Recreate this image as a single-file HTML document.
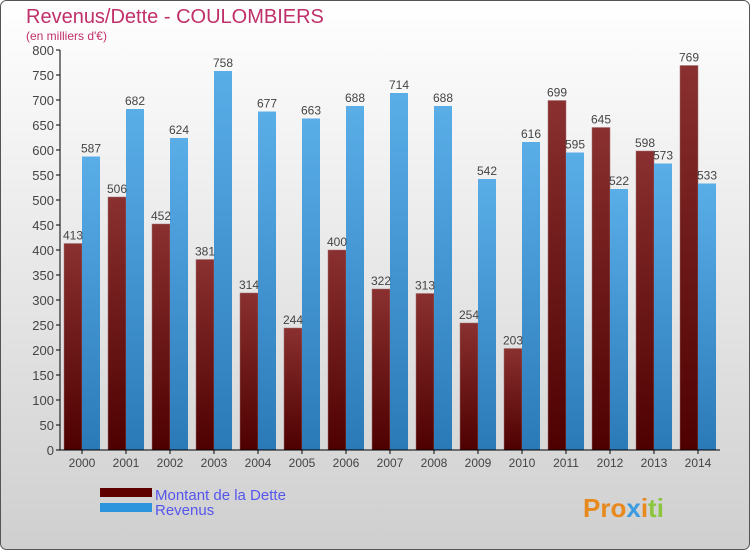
<!DOCTYPE html>
<html><head><meta charset="utf-8"><style>
body{margin:0;width:750px;height:550px;overflow:hidden;font-family:"Liberation Sans",sans-serif}
</style></head><body>
<svg width="750" height="550" xmlns="http://www.w3.org/2000/svg">
<defs>
<linearGradient id="bg" x1="0" y1="0" x2="0" y2="1"><stop offset="0" stop-color="#ffffff"/><stop offset="1" stop-color="#cfcfcf"/></linearGradient>
<linearGradient id="gd" x1="0" y1="0" x2="0" y2="1"><stop offset="0" stop-color="#8a3030"/><stop offset="1" stop-color="#4e0000"/></linearGradient>
<linearGradient id="gr" x1="0" y1="0" x2="0" y2="1"><stop offset="0" stop-color="#5aaee8"/><stop offset="1" stop-color="#2a7ab8"/></linearGradient>
</defs>
<rect x="0.5" y="0.5" width="749" height="549" rx="6" fill="url(#bg)" stroke="#555"/>
<text x="26" y="23" font-size="20" fill="#c0306a">Revenus/Dette - COULOMBIERS</text>
<text x="26" y="40" font-size="12" fill="#c0306a">(en milliers d'€)</text>
<g id="plot"></g>
<g>
<rect x="100" y="488" width="52" height="9" fill="#5e0000"/>
<text x="155" y="500" font-size="15" fill="#5555ee">Montant de la Dette</text>
<rect x="100" y="503" width="52" height="9" fill="#2c94dc"/>
<text x="155" y="515" font-size="15" fill="#5555ee">Revenus</text>
</g>
<g font-size="26" font-weight="bold">
<text x="583" y="517"><tspan fill="#e8891e">Pro</tspan><tspan fill="#3a9be0">x</tspan><tspan fill="#e8891e">i</tspan><tspan fill="#8cc63f">ti</tspan></text>
</g>
</svg>
<script>
const years=["2000","2001","2002","2003","2004","2005","2006","2007","2008","2009","2010","2011","2012","2013","2014"];
const dette=[413,506,452,381,314,244,400,322,313,254,203,699,645,598,769];
const revenus=[587,682,624,758,677,663,688,714,688,542,616,595,522,573,533];
const yTicks=[0,50,100,150,200,250,300,350,400,450,500,550,600,650,700,750,800];
const NS="http://www.w3.org/2000/svg";
const g=document.getElementById('plot');
const x0=60,y0=450,cw=44,ppu=0.5;
const y=v=>y0-v*ppu;
const cx=i=>x0+cw*i+cw/2;
function el(t,a){const e=document.createElementNS(NS,t);for(const k in a)e.setAttribute(k,a[k]);g.appendChild(e);return e;}
yTicks.forEach(v=>{
 const l=el('line',{x1:x0-4,x2:x0,y1:y(v),y2:y(v),stroke:'#000'});
 
 
 const t=el('text',{x:x0-6,y:y(v)+5,'text-anchor':'end','font-size':13,fill:'#444'});
 t.textContent=v;
 
 
});
years.forEach((yr,i)=>{
 const c=cx(i);
 const b1=el('rect',{x:c-18,y:y(dette[i]),width:18,height:dette[i]*ppu,fill:'url(#gd)',stroke:'#a07070','stroke-width':0.5});
 
 
 const b2=el('rect',{x:c,y:y(revenus[i]),width:18,height:revenus[i]*ppu,fill:'url(#gr)'});
 
 
 const t1=el('text',{x:c-9,y:y(dette[i])-4,'text-anchor':'middle','font-size':12,fill:'#444'});
 t1.textContent=dette[i];
 
 
 const t2=el('text',{x:c+9,y:y(revenus[i])-4,'text-anchor':'middle','font-size':12,fill:'#444'});
 t2.textContent=revenus[i];
 
 
 const tk=el('line',{x1:c,x2:c,y1:y0,y2:y0+4,stroke:'#000'});
 
 
 const xl=el('text',{x:c,y:y0+17,'text-anchor':'middle','font-size':12,fill:'#444'});
 xl.textContent=yr;
 
 
});
const ya=el('line',{x1:x0,x2:x0,y1:y(800),y2:y0,stroke:'#000'});


const xa=el('line',{x1:x0,x2:x0+cw*years.length,y1:y0,y2:y0,stroke:'#000'});


</script>
</body></html>
